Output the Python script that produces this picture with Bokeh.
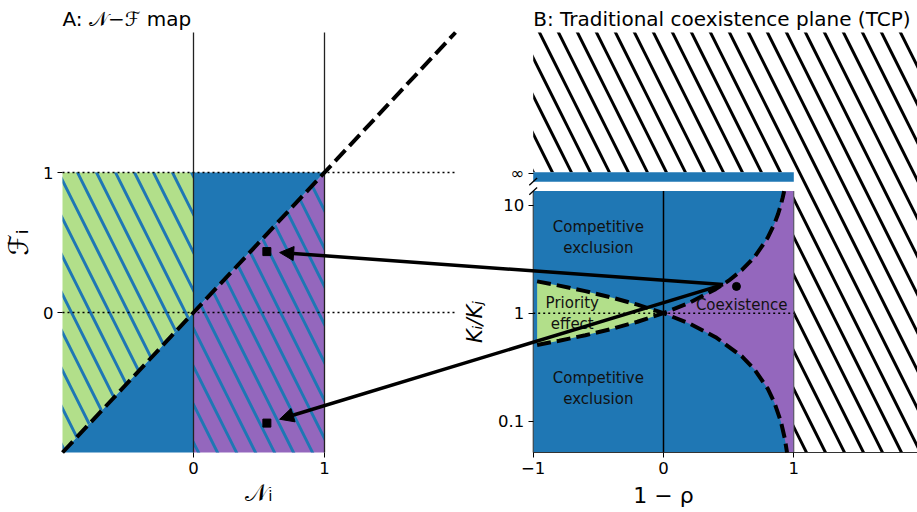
import math
from bokeh.plotting import figure
from bokeh.models import (Range1d, LinearAxis, LogAxis, LogScale, FixedTicker,
                          BasicTickFormatter, Label, Arrow, NormalHead)
from bokeh.core.properties import value
from bokeh.embed import file_html
from bokeh.resources import INLINE

# ---------------- data ----------------
# Panel A: N-F map
a_ticks_N = [0, 1]
a_ticks_F = [0, 1]
a_N_edges = [-1, 0, 1, 2]
a_F_edges = [-1, 0, 1, 2]
a_square_N = [0.56, 0.56]
a_square_F = [0.435, -0.79]

# Panel B: traditional coexistence plane
b_ticks_x = [-1, 0, 1]
b_ticks_y = [0.1, 1, 10]
b_tick_inf = 19.5
b_edges_x = [-1, 0, 1]
rho_x = [-0.97, -0.8, -0.6, -0.4, -0.2, 0.0, 0.2, 0.4, 0.6, 0.7, 0.8, 0.85, 0.9, 0.93, 0.948]
rho_y = [1.97, 1.8, 1.6, 1.4, 1.2, 1.0, 0.8, 0.6, 0.4, 0.3, 0.2, 0.15, 0.1, 0.07, 0.0513]
inv_x = [-0.97, -0.8, -0.6, -0.4, -0.2, 0.0, 0.2, 0.4, 0.5, 0.6, 0.7, 0.8, 0.85, 0.88, 0.9, 0.915, 0.926]
inv_y = [0.508, 0.556, 0.625, 0.714, 0.833, 1.0, 1.25, 1.67, 2.0, 2.5, 3.33, 5.0, 6.67, 8.33, 10.0, 11.8, 13.5]
b_lower_ylim = [0.0513, 13.5]   # lower (log) panel
b_band = [16.5, 20.2]           # the "infinity" band
b_upper_top = 397.0             # top of the upper (hatched) panel
b_dot_x, b_dot_y = [0.56], [1.77]
b_arrow_tail = (0.457, 1.84)
region_texts = ["Competitive\nexclusion", "Priority\neffect", "Coexistence", "Competitive\nexclusion"]
region_x = [-0.5, -0.7, 0.6, -0.5]
region_y = [5.0, 1.0, 1.18, 0.2]

# ---------------- layout (frame = whole canvas) ----------------
W, H = 917, 512
PX_X_A, PX_Y_A = 131.0, 140.0
A_X = (-1.0 - 62 / PX_X_A, -1.0 + (W - 62) / PX_X_A)
A_Y = (-1.0 - (H - 452) / PX_Y_A, 2.0 + 32 / PX_Y_A)
B_X = (-1.0 - 532.7 / 130.3, -1.0 + (W - 532.7) / 130.3)
B_Y = (10 ** (-(H - 312.7) / 108.0), 10 ** (312.7 / 108.0))
TITLE_GAP = 1.5 / PX_Y_A

BLUE, GREEN, PURPLE = "#1f77b4", "#b2df8a", "#9467bd"
FONT = "DejaVu Sans"
SPINE = "#333333"

p = figure(width=W, height=H, output_backend="svg", toolbar_location=None,
           x_range=Range1d(*A_X), y_range=Range1d(*A_Y),
           x_axis_type=None, y_axis_type=None,
           min_border_left=0, min_border_right=0, min_border_top=0, min_border_bottom=0)
p.extra_x_ranges = {"B": Range1d(*B_X)}
p.extra_y_ranges = {"B": Range1d(*B_Y)}
p.extra_y_scales = {"B": LogScale()}
p.outline_line_color = None

hatch = dict(hatch_pattern="\\", hatch_weight=3, hatch_scale=38)


def b_to_a(xb, yb):
    fx = (xb - B_X[0]) / (B_X[1] - B_X[0])
    fy = (math.log10(yb) - math.log10(B_Y[0])) / (math.log10(B_Y[1]) - math.log10(B_Y[0]))
    return A_X[0] + fx * (A_X[1] - A_X[0]), A_Y[0] + fy * (A_Y[1] - A_Y[0])


# ---- Panel A regions ----
n0, nz, n1, n2 = a_N_edges
f0, fz, f1, f2 = a_F_edges
p.patch(x=[n0, n0, nz, nz], y=[f0, f1, f1, fz], fill_color=GREEN, line_color=None,
        hatch_color=BLUE, **hatch)
p.patch(x=[n0, nz, nz], y=[f0, f0, fz], fill_color=BLUE, line_color=None)
p.patch(x=[nz, nz, n1], y=[fz, f1, f1], fill_color=BLUE, line_color=None)
p.patch(x=[nz, n1, n1, nz], y=[f0, f0, f1, fz], fill_color=PURPLE, line_color=None,
        hatch_color=BLUE, **hatch)
p.segment(x0=[nz, n1], y0=[f0, f0], x1=[nz, n1], y1=[f2, f2], line_color="#222222", line_width=1.3)
p.segment(x0=[n0, n0], y0=[fz, f1], x1=[n2, n2], y1=[fz, f1], line_color="black",
          line_width=1.4, line_dash="2 3")
p.line(x=[n0, n2], y=[f0, f2], line_color="black", line_width=4, line_dash="15 6")
p.scatter(x=a_square_N, y=a_square_F, marker="square", size=8, color="black")

# ---- Panel B regions ----
B = dict(x_range_name="B", y_range_name="B")
bm1, b0, b1 = b_edges_x
ylo, yhi = b_lower_ylim
p.patch(x=[bm1, bm1, B_X[1], B_X[1], b1, b1], y=[b_band[1], b_upper_top, b_upper_top, ylo, ylo, b_band[1]],
        fill_color="white", line_color=None, hatch_color="black", **B, **hatch)
p.quad(left=[bm1], right=[b1], bottom=[b_band[0]], top=[b_band[1]], fill_color=BLUE, line_color=None, **B)
p.quad(left=[bm1], right=[b1], bottom=[ylo], top=[yhi], fill_color=BLUE, line_color=None, **B)

gx = [x for x in rho_x if x <= 0] + [x for x in inv_x if x <= 0][::-1]
gy = [y for x, y in zip(rho_x, rho_y) if x <= 0] + [y for x, y in zip(inv_x, inv_y) if x <= 0][::-1]
p.patch(x=gx, y=gy, fill_color=GREEN, line_color=None, **B)
px_ = [x for x in inv_x if x >= 0] + [b1, b1] + [x for x in rho_x if x >= 0][::-1]
py_ = [y for x, y in zip(inv_x, inv_y) if x >= 0] + [yhi, ylo] + \
      [y for x, y in zip(rho_x, rho_y) if x >= 0][::-1]
p.patch(x=px_, y=py_, fill_color=PURPLE, line_color=None, **B)

p.segment(x0=[b0], y0=[ylo], x1=[b0], y1=[yhi], line_color="black", line_width=1.5, **B)
p.segment(x0=[b1], y0=[ylo], x1=[b1], y1=[yhi], line_color="#555555", line_width=1, **B)
# spines of the lower B panel
p.segment(x0=[bm1], y0=[ylo], x1=[B_X[1]], y1=[ylo], line_color=SPINE, line_width=1, **B)
p.segment(x0=[bm1], y0=[ylo], x1=[bm1], y1=[yhi], line_color=SPINE, line_width=1, **B)
p.segment(x0=[bm1], y0=[1], x1=[b1], y1=[1], line_color="black", line_width=1.4, line_dash="2 3", **B)
p.line(x=rho_x, y=rho_y, line_color="black", line_width=4, line_dash="14 6", **B)
p.line(x=inv_x, y=inv_y, line_color="black", line_width=4, line_dash="14 6", **B)
p.text(x=region_x, y=region_y, text=region_texts, text_align="center", text_baseline="middle",
       text_font=value(FONT), text_font_size="15px", text_color="#111111", text_line_height=1.15, **B)
p.scatter(x=b_dot_x, y=b_dot_y, marker="circle", size=8, color="black", **B)

# break marks
bk = [b_band[0], yhi]
p.segment(x0=[bm1 - 0.03] * 2, y0=[v / 1.08 for v in bk], x1=[bm1 + 0.03] * 2,
          y1=[v * 1.08 for v in bk], line_color="black", line_width=1.3, **B)

# ---- arrows ----
tx, ty = b_to_a(*b_arrow_tail)
for sn, sf in zip(a_square_N, a_square_F):
    ex, ey = sn + 0.028 * (tx - sn), sf + 0.028 * (ty - sf)
    p.add_layout(Arrow(x_start=tx, y_start=ty, x_end=ex, y_end=ey, line_width=3.5, line_color="black",
                       end=NormalHead(size=14, fill_color="black", line_color="black", line_width=1)))


# ---- axes (all placed at fixed data locations inside the full-canvas frame) ----
def style(ax, size="22px", style_="normal"):
    ax.major_label_text_font = FONT
    ax.major_label_text_font_size = "16.5px"
    ax.major_label_text_color = "black"
    ax.major_tick_in = 0
    ax.major_tick_out = 5
    ax.minor_tick_in = 0
    ax.minor_tick_out = 0
    ax.major_tick_line_color = "black"
    ax.major_label_standoff = 4
    ax.axis_label_text_font = FONT
    ax.axis_label_text_font_size = size
    ax.axis_label_text_font_style = style_
    ax.axis_label_text_color = "black"


ay = LinearAxis(fixed_location=n0, ticker=FixedTicker(ticks=a_ticks_F, minor_ticks=[]),
                bounds=(f0, f2), axis_label="ℱᵢ", axis_line_color=None, axis_label_standoff=6)
style(ay, "27px")
p.add_layout(ay, "left")
ax_ = LinearAxis(fixed_location=f0, ticker=FixedTicker(ticks=a_ticks_N, minor_ticks=[]),
                 bounds=(n0, n2), axis_label="𝒩ᵢ", axis_line_color=None, axis_label_standoff=2)
style(ax_, "24px")
p.add_layout(ax_, "below")
bx = LinearAxis(fixed_location=ylo, ticker=FixedTicker(ticks=b_ticks_x, minor_ticks=[]),
                bounds=(bm1, b1), major_label_overrides={v: str(v).replace("-", "−") for v in b_ticks_x},
                axis_label="1 − ρ", axis_line_color=None, axis_label_standoff=6, **B)
style(bx, "22px")
p.add_layout(bx, "below")
by = LogAxis(fixed_location=bm1, ticker=FixedTicker(ticks=b_ticks_y, minor_ticks=[]),
             formatter=BasicTickFormatter(), bounds=(ylo, yhi), axis_label="Kᵢ/Kⱼ",
             axis_line_color=None, axis_label_standoff=8, **B)
style(by, "21px", "italic")
p.add_layout(by, "left")
binf = LogAxis(fixed_location=bm1, ticker=FixedTicker(ticks=[b_tick_inf], minor_ticks=[]),
               bounds=(b_band[0], b_band[1]), major_label_overrides={b_tick_inf: "∞"},
               axis_line_color=None, **B)
style(binf)
p.add_layout(binf, "left")

# ---- titles ----
title_b_x, _ = b_to_a(bm1, 1.0)
p.add_layout(Label(x=n0, y=f2 + TITLE_GAP, text="A: 𝒩−ℱ map", text_font=FONT, text_font_size="20px",
                   text_baseline="bottom", text_color="black"))
p.add_layout(Label(x=title_b_x, y=f2 + TITLE_GAP, text="B: Traditional coexistence plane (TCP)",
                   text_font=FONT, text_font_size="20px", text_baseline="bottom", text_color="black"))

open("out.html", "w").write(file_html(p, INLINE))
